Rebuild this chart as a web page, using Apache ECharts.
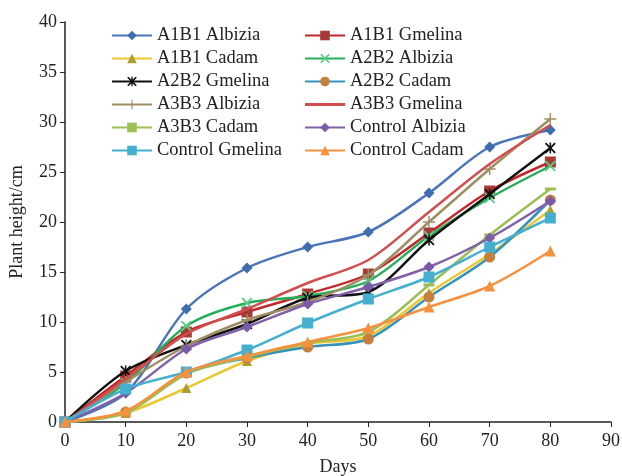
<!DOCTYPE html>
<html><head><meta charset="utf-8">
<script src="https://cdn.jsdelivr.net/npm/echarts@6/dist/echarts.min.js"></script>
<style>html,body{margin:0;padding:0;background:#fff}#c{width:622px;height:476px}</style>
</head><body><div id="c"></div>
<script>
const days = [0, 10, 20, 30, 40, 50, 60, 70, 80];
const xTicks = [0, 10, 20, 30, 40, 50, 60, 70, 80, 90];
const yTicks = [0, 5, 10, 15, 20, 25, 30, 35, 40];
const seriesNames = ['A1B1 Albizia','A1B1 Gmelina','A1B1 Cadam','A2B2 Albizia','A2B2 Gmelina','A2B2 Cadam','A3B3 Albizia','A3B3 Gmelina','A3B3 Cadam','Control Albizia','Control Gmelina','Control Cadam'];
const a1b1Albizia  = [0, 2.9, 11.3, 15.4, 17.5, 19.0, 22.9, 27.5, 29.2];
const a1b1Gmelina  = [0, 4.6, 9.0, 11.0, 12.8, 14.8, 18.9, 23.1, 26.0];
const a1b1Cadam    = [0, 0.9, 3.4, 6.1, 7.8, 8.6, 12.9, 16.8, 21.2];
const a2b2Albizia  = [0, 3.9, 9.6, 11.9, 12.6, 14.1, 18.6, 22.4, 25.6];
const a2b2Gmelina  = [0, 5.1, 7.7, 9.8, 12.4, 13.0, 18.2, 22.8, 27.4];
const a2b2Cadam    = [0, 1.0, 4.9, 6.4, 7.5, 8.3, 12.5, 16.5, 22.2];
const a3b3Albizia  = [0, 4.0, 7.6, 10.2, 12.0, 14.7, 20.0, 25.3, 30.3];
const a3b3Gmelina  = [0, 4.3, 8.8, 11.3, 13.9, 16.2, 21.0, 25.8, 29.7];
const a3b3Cadam    = [0, 0.9, 4.8, 6.5, 7.9, 9.0, 13.7, 18.7, 23.3];
const ctrlAlbizia  = [0, 2.9, 7.3, 9.5, 11.8, 13.5, 15.5, 18.4, 22.1];
const ctrlGmelina  = [0, 3.3, 5.0, 7.2, 9.9, 12.3, 14.5, 17.5, 20.4];
const ctrlCadam    = [0, 1.1, 5.0, 6.6, 8.0, 9.4, 11.5, 13.6, 17.1];

const values = [a1b1Albizia,a1b1Gmelina,a1b1Cadam,a2b2Albizia,a2b2Gmelina,a2b2Cadam,a3b3Albizia,a3b3Gmelina,a3b3Cadam,ctrlAlbizia,ctrlGmelina,ctrlCadam];

const P_X = 'path://M0,1.2 L1.2,0 L5,3.8 L8.8,0 L10,1.2 L6.2,5 L10,8.8 L8.8,10 L5,6.2 L1.2,10 L0,8.8 L3.8,5 Z';
const P_AST = 'path://M0,1.2 L1.2,0 L5,3.8 L8.8,0 L10,1.2 L6.2,5 L10,8.8 L8.8,10 L5,6.2 L1.2,10 L0,8.8 L3.8,5 Z M4.3,0 L5.7,0 L5.7,10 L4.3,10 Z';
const P_PLUS = 'path://M4.4,0 L5.6,0 L5.6,4.4 L10,4.4 L10,5.6 L5.6,5.6 L5.6,10 L4.4,10 L4.4,5.6 L0,5.6 L0,4.4 L4.4,4.4 Z';

const styles = [
  {line:'#4A76B8', mark:'#3F6DB0', symbol:'diamond', size:11},
  {line:'#C0282B', mark:'#A83A36', symbol:'rect', size:11},
  {line:'#EBC832', mark:'#A8A030', symbol:'triangle', size:10},
  {line:'#27AE5A', mark:'#5FCB86', symbol:P_X, size:11},
  {line:'#111111', mark:'#111111', symbol:P_AST, size:11},
  {line:'#3791BD', mark:'#C4803E', symbol:'circle', size:11},
  {line:'#9E8E62', mark:'#9E8E62', symbol:P_PLUS, size:12},
  {line:'#D24E4E', mark:'#D24E4E', symbol:'none', size:0},
  {line:'#9BBE55', mark:'#9BBE55', symbol:'rect', size:[11,3]},
  {line:'#8061AA', mark:'#7B5BA6', symbol:'diamond', size:11},
  {line:'#45AFCF', mark:'#45AFCF', symbol:'rect', size:11},
  {line:'#F5913F', mark:'#F5913F', symbol:'triangle', size:11}
];

const series = seriesNames.map((n, i) => ({
  name: n, type: 'line', smooth: 0.3,
  data: days.map((d, j) => [d, values[i][j]]),
  symbol: styles[i].symbol, symbolSize: styles[i].size,
  showSymbol: styles[i].symbol !== 'none',
  lineStyle: {color: styles[i].line, width: 2.5},
  itemStyle: {color: styles[i].mark, borderWidth: 0},
  emphasis: {disabled: true}, z: 2 + i
}));

const font = '"Liberation Serif","Times New Roman",serif';
const legendBase = {
  orient: 'vertical', top: 26, itemWidth: 40, itemHeight: 12, itemGap: 4,
  textStyle: {fontFamily: font, fontSize: 18.5, color: '#222'}, padding: 0
};
function legItem(i) {
  if (styles[i].symbol === 'none') {
    return {name: seriesNames[i], icon: 'path://M0,0 L40,0 L40,3 L0,3 Z', itemStyle: {color: styles[i].line}};
  }
  return seriesNames[i];
}

const chart = echarts.init(document.getElementById('c'));
chart.setOption({
  backgroundColor: '#fff',
  animation: false,
  grid: {left: 65, right: 11, top: 22, bottom: 54, containLabel: false, outerBoundsMode: 'none'},
  legend: [
    Object.assign({}, legendBase, {left: 111, data: [0,2,4,6,8,10].map(legItem)}),
    Object.assign({}, legendBase, {left: 304, data: [1,3,5,7,9,11].map(legItem)})
  ],
  xAxis: {
    type: 'value', min: xTicks[0], max: xTicks[xTicks.length-1], interval: 10,
    name: 'Days', nameLocation: 'middle', nameGap: 36,
    nameTextStyle: {fontFamily: font, fontSize: 18, color: '#222'},
    axisLine: {lineStyle: {color: '#222', width: 1.5}},
    axisTick: {show: true, length: 5, lineStyle: {color: '#222'}},
    axisLabel: {fontFamily: font, fontSize: 18, color: '#222', margin: 10},
    splitLine: {show: false}
  },
  yAxis: {
    type: 'value', min: yTicks[0], max: yTicks[yTicks.length-1], interval: 5,
    name: 'Plant height/cm', nameLocation: 'middle', nameGap: 39, nameRotate: 90,
    nameTextStyle: {fontFamily: font, fontSize: 18, color: '#222'},
    axisLine: {show: true, lineStyle: {color: '#222', width: 1.5}},
    axisTick: {show: true, length: 5, lineStyle: {color: '#222'}},
    axisLabel: {fontFamily: font, fontSize: 18, color: '#222', margin: 8},
    splitLine: {show: false}
  },
  series: series
});
</script></body></html>
